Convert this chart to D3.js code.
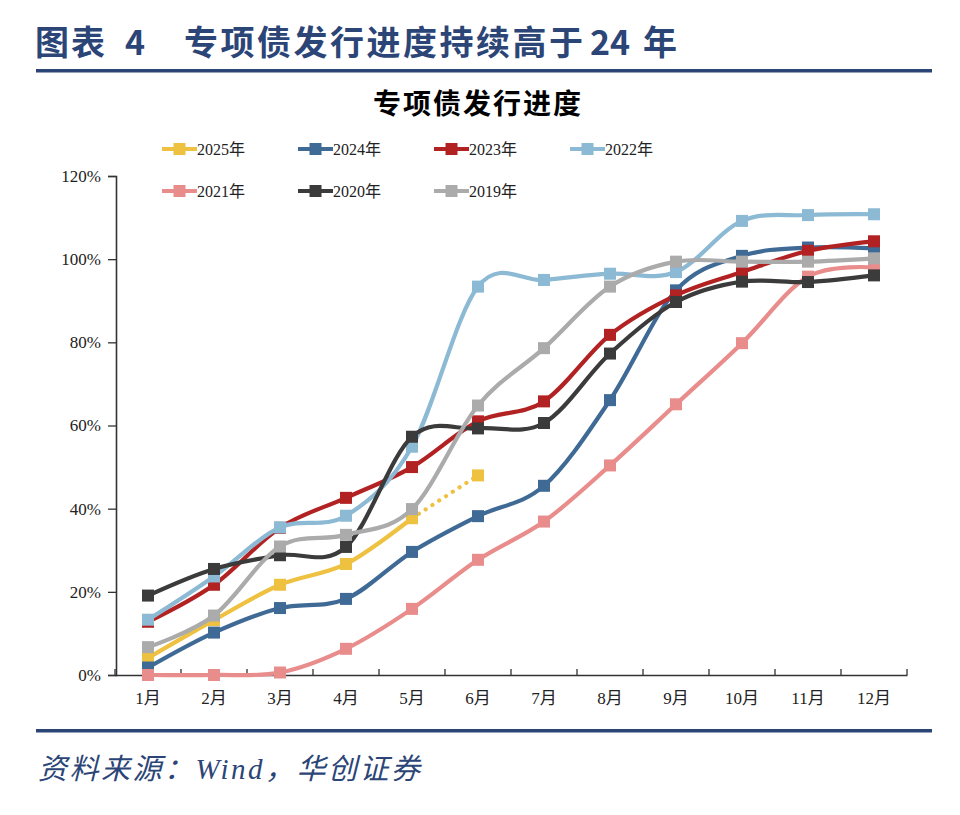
<!DOCTYPE html>
<html>
<head>
<meta charset="utf-8">
<script src="https://cdn.jsdelivr.net/npm/d3@7"></script>
<style>
  body { margin: 0; background: #fff; }
  svg { display: block; }
</style>
</head>
<body>
<div id="chart"></div>
<script>
// data (percent)
const months = ["1月", "2月", "3月", "4月", "5月", "6月", "7月", "8月", "9月", "10月", "11月", "12月"];
const yTicks = [0, 20, 40, 60, 80, 100, 120];
const seriesNames = ["2025年", "2024年", "2023年", "2022年", "2021年", "2020年", "2019年"];
const s2025 = [4.1, 13.2, 21.7, 26.7, 37.7, 48.0];
const s2024 = [1.8, 10.2, 16.1, 18.3, 29.6, 38.2, 45.5, 66.1, 92.5, 100.8, 102.8, 102.6];
const s2023 = [12.8, 21.7, 35.4, 42.6, 50.0, 61.0, 65.8, 81.8, 91.3, 96.9, 102.0, 104.3];
const s2022 = [13.3, 23.7, 35.5, 38.3, 54.9, 93.4, 95.0, 96.5, 96.9, 109.2, 110.6, 110.8];
const s2021 = [0, 0, 0.6, 6.3, 15.9, 27.7, 36.9, 50.4, 65.1, 79.8, 95.8, 98.0];
const s2020 = [19.1, 25.5, 28.8, 30.8, 57.3, 59.3, 60.6, 77.3, 89.7, 94.6, 94.5, 96.1];
const s2019 = [6.7, 14.3, 30.9, 33.7, 39.9, 64.8, 78.6, 93.4, 99.4, 99.4, 99.4, 100.2];
const colors = ["#EEC141", "#3F6A95", "#B22222", "#8CB9D3", "#E98C8C", "#3B3B3B", "#ABABAB"];

const allSeries = [s2025, s2024, s2023, s2022, s2021, s2020, s2019];

const W = 960, H = 815;
const svg = d3.select("#chart").append("svg")
  .attr("width", W)
  .attr("height", H);

const navy = "#2C4577";
const cjk = "'Noto Sans CJK SC', sans-serif";
const serif = "'Liberation Serif', 'Noto Sans CJK SC', serif";

// header
const head = svg.append("g")
  .attr("fill", navy)
  .style("font-family", cjk)
  .style("font-weight", "bold")
  .style("font-size", "34px");
head.append("text").attr("x", 35).attr("y", 55).style("letter-spacing", "2px").text("图表");
head.append("text").attr("x", 125).attr("y", 55).text("4");
head.append("text").attr("x", 184).attr("y", 55).style("letter-spacing", "2.5px").text("专项债发行进度持续高于");
head.append("text").attr("x", 590).attr("y", 55).text("24");
head.append("text").attr("x", 643).attr("y", 55).text("年");

svg.append("rect")
  .attr("x", 36).attr("y", 69)
  .attr("width", 896).attr("height", 3.5)
  .attr("fill", navy);

svg.append("text")
  .attr("x", 478).attr("y", 114)
  .attr("text-anchor", "middle")
  .style("font-family", cjk)
  .style("font-weight", "bold")
  .style("font-size", "28px")
  .style("letter-spacing", "2px")
  .text("专项债发行进度");

// scales
const x = d3.scaleBand().domain(months).range([115, 907]);
const y = d3.scaleLinear().domain([0, 120]).range([675, 176]);
const cx = d => x(d) + x.bandwidth() / 2;

// axes
const xAxis = svg.append("g")
  .attr("transform", "translate(0,675)")
  .call(d3.axisBottom(x).tickSize(0).tickPadding(17));
xAxis.select(".domain").attr("stroke", "#333").attr("stroke-width", 1.6);
xAxis.selectAll("text")
  .style("font-family", serif)
  .style("font-size", "17px")
  .attr("fill", "#222");
// tick marks between categories, pointing up
const bounds = months.map(m => x(m) + x.bandwidth()).concat([x(months[0])]);
xAxis.selectAll("line.bt")
  .data(bounds)
  .join("line")
  .attr("class", "bt")
  .attr("x1", d => d).attr("x2", d => d)
  .attr("y1", 0).attr("y2", -6)
  .attr("stroke", "#333").attr("stroke-width", 1.3);

const yAxis = svg.append("g")
  .attr("transform", "translate(116,0)")
  .call(d3.axisLeft(y).tickValues(yTicks).tickFormat(d => d + "%").tickSize(8).tickPadding(7));
yAxis.select(".domain").attr("stroke", "#333").attr("stroke-width", 1.6);
yAxis.selectAll(".tick line").attr("stroke", "#333").attr("stroke-width", 1.3);
yAxis.selectAll("text")
  .style("font-family", serif)
  .style("font-size", "17px")
  .attr("fill", "#222");

// lines
const line = d3.line()
  .x(d => cx(d.m))
  .y(d => y(d.v))
  .curve(d3.curveCatmullRom.alpha(0));

const plot = svg.append("g");
allSeries.forEach((vals, i) => {
  const pts = vals.map((v, j) => ({ m: months[j], v: v }));
  const solid = i === 0 ? pts.slice(0, 5) : pts;
  const g = plot.append("g");
  g.append("path")
    .datum(solid)
    .attr("d", line)
    .attr("fill", "none")
    .attr("stroke", colors[i])
    .attr("stroke-width", 4.2)
    .attr("stroke-linejoin", "round");
  if (i === 0) {
    g.append("path")
      .datum(pts.slice(4))
      .attr("d", d3.line().x(d => cx(d.m)).y(d => y(d.v)))
      .attr("fill", "none")
      .attr("stroke", colors[i])
      .attr("stroke-width", 4.2)
      .attr("stroke-linecap", "round")
      .attr("stroke-dasharray", "0.1,8");
  }
  g.selectAll("rect")
    .data(pts)
    .join("rect")
    .attr("x", d => cx(d.m) - 6)
    .attr("y", d => y(d.v) - 6)
    .attr("width", 12)
    .attr("height", 12)
    .attr("fill", colors[i]);
});

// legend
const legend = svg.append("g");
seriesNames.forEach((name, i) => {
  const col = i % 4, row = Math.floor(i / 4);
  const lx = 162 + col * 136, ly = 149 + row * 42;
  legend.append("line")
    .attr("x1", lx).attr("x2", lx + 35)
    .attr("y1", ly).attr("y2", ly)
    .attr("stroke", colors[i]).attr("stroke-width", 4.2);
  legend.append("rect")
    .attr("x", lx + 17.5 - 6).attr("y", ly - 6)
    .attr("width", 12).attr("height", 12)
    .attr("fill", colors[i]);
  legend.append("text")
    .attr("x", lx + 35).attr("y", ly + 6)
    .style("font-family", serif)
    .style("font-size", "16px")
    .attr("fill", "#222")
    .text(name);
});

// footer
svg.append("rect")
  .attr("x", 36).attr("y", 729)
  .attr("width", 896).attr("height", 3.5)
  .attr("fill", navy);

svg.append("text")
  .attr("x", 38).attr("y", 779)
  .attr("fill", navy)
  .style("font-family", serif)
  .style("font-style", "italic")
  .style("font-size", "29px")
  .style("letter-spacing", "2.5px")
  .text("资料来源：Wind，华创证券");
</script>
</body>
</html>
